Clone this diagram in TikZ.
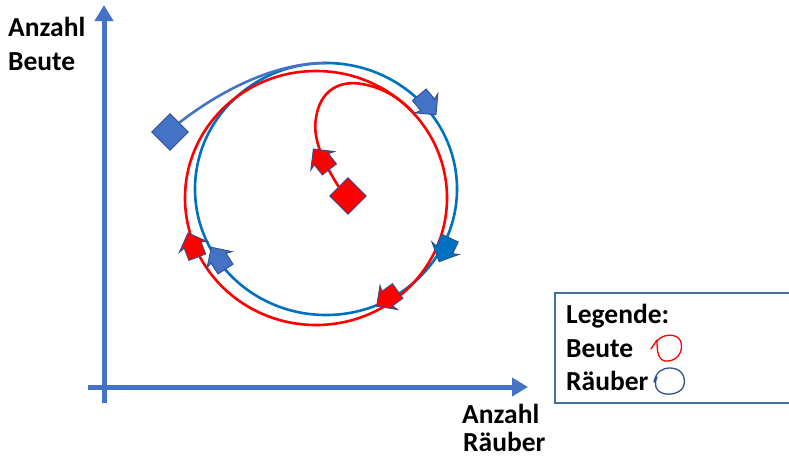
\documentclass[tikz,border=0pt]{standalone}
\usepackage{fontspec}
\setmainfont{Carlito}
\usetikzlibrary{arrows.meta,shapes.geometric}
\definecolor{axisblue}{HTML}{4472C4}
\definecolor{circblue}{HTML}{0070C0}
\definecolor{edgeblue}{HTML}{2F528F}
\definecolor{boxblue}{HTML}{41719C}
\definecolor{pred}{HTML}{FF0000}
\tikzset{
  lbl/.style={font=\fontsize{27.5}{32}\selectfont\bfseries, inner sep=0pt, anchor=base west},
  axisline/.style={draw=axisblue, line width=5pt},
  axisarrow/.style={axisline, -{Triangle[length=16pt,width=18pt]}},
  redpath/.style={draw=pred, line width=2.6pt},
  bluepath/.style={draw=circblue, line width=2.6pt},
  bluetail/.style={draw=axisblue, line width=2.6pt},
  startmark/.style={diamond, draw=edgeblue, line width=0.9pt, inner sep=0pt, minimum width=37pt, minimum height=37pt},
  legendbox/.style={draw=boxblue, line width=1.5pt},
  scribble/.style={line width=1.3pt, line cap=round, line join=round},
}
\newcommand\flowarr[3]{\filldraw[fill=#3,draw=edgeblue,line width=0.9pt,shift={#1},rotate=#2]
  (14,0) -- (-1,15) -- (1,9) -- (-12,9) -- (-12,-9) -- (1,-9) -- (-1,-15) -- cycle;}
\begin{document}
\begin{tikzpicture}[x=1pt,y=-1pt]
\useasboundingbox[fill=white] (0,0) rectangle (789,458);

% axes
\coordinate (ytop) at (104,5);
\coordinate (ybot) at (104,403);
\coordinate (xleft) at (88,387);
\coordinate (xright) at (528,387);
\draw[axisarrow] (ybot) -- (ytop);
\draw[axisarrow] (xleft) -- (xright);

% axis labels
\node[lbl] (yl1) at (8,36) {Anzahl};
\node[lbl] (yl2) at (8,70) {Beute};
\node[lbl] (xl1) at (462,423) {Anzahl};
\node[lbl] (xl2) at (463,451) {Räuber};

% blue cycle (Räuber)
\node[startmark, fill=axisblue] (bd) at (170,132) {};
\coordinate (btop) at (326,63);
\draw[bluepath] (326,189) ellipse [x radius=131, y radius=126];
\draw[bluetail] (bd.north east) .. controls (215,95) and (270,63) .. (btop);

% red cycle (Beute)
\node[startmark, fill=pred] (rd) at (348,196) {};
\coordinate (rjoin) at (416,116);
\draw[redpath] (316,198) ellipse [x radius=131, y radius=127];
\draw[redpath] (rd.north west) .. controls (325,165) and (312,140) .. (316,118)
  .. controls (320,90) and (340,80) .. (362,84)
  .. controls (385,88) and (403,100) .. (rjoin);

% direction arrows
\flowarr{(322,160)}{128}{pred}
\flowarr{(427,104)}{-50}{axisblue}
\flowarr{(445,249)}{-115}{circblue}
\flowarr{(388,298)}{-144}{pred}
\flowarr{(193,246)}{111}{pred}
\flowarr{(219,259)}{123}{axisblue}

% legend
\draw[legendbox] (555,293) rectangle (795,403);
\node[lbl] (lg1) at (566,323) {Legende:};
\node[lbl] (lg2) at (566,357) {Beute};
\node[lbl] (lg3) at (566,390) {Räuber};
\draw[scribble, draw=pred] (651,349) -- (657,340)
  .. controls (657,352) and (658,362) .. (668,361)
  .. controls (680,360) and (684,348) .. (680,340)
  .. controls (676,333) and (662,334) .. (657,341);
\draw[scribble, draw=edgeblue] (654,382) .. controls (656,372) and (662,368) .. (670,368)
  .. controls (680,368) and (686,375) .. (684,385)
  .. controls (682,393) and (670,396) .. (662,393)
  .. controls (655,390) and (654,384) .. (657,377);
\end{tikzpicture}
\end{document}
